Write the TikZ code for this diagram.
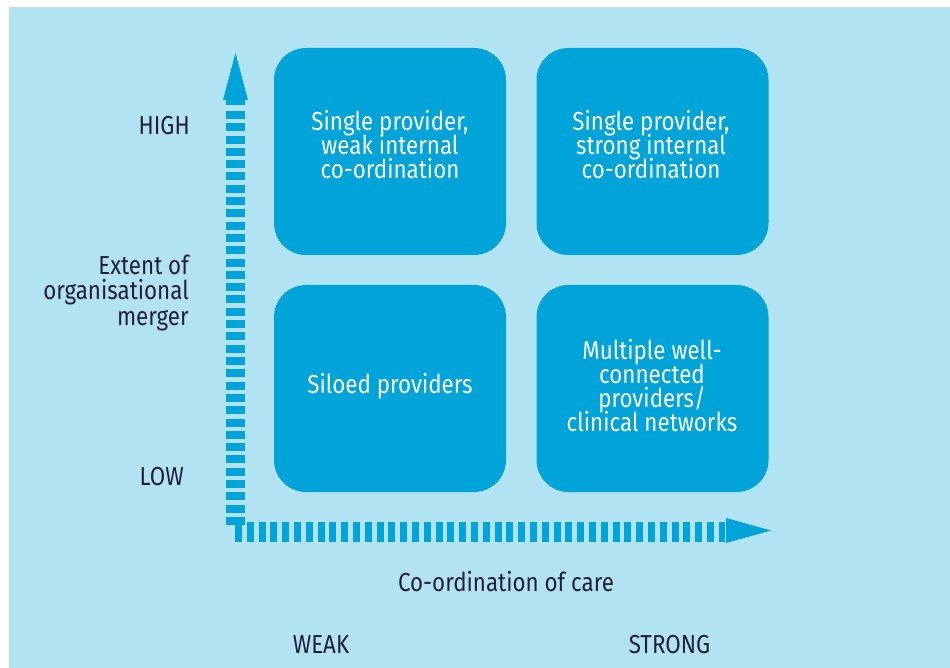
\documentclass[tikz,border=0pt]{standalone}
\usepackage{fontspec}
\setmainfont{Fira Sans}[FakeStretch=0.86]
\definecolor{bgblue}{HTML}{B2E3F3}
\definecolor{boxblue}{HTML}{00A4D8}
\definecolor{ink}{HTML}{221E3A}
\newcommand\mytightlines{\lineskiplimit=-30pt\relax\lineskip=0pt\relax}
\begin{document}
\begin{tikzpicture}[x=1pt,y=-1pt,
  quad/.style={fill=boxblue, rounded corners=32pt, minimum width=232pt, minimum height=207pt, inner sep=0pt},
  quadtext/.style={text=white, align=center, font=\fontsize{26}{24}\selectfont\mytightlines, inner sep=0pt},
  axlabel/.style={text=ink, font=\fontsize{26}{25.5}\selectfont\mytightlines, inner sep=0pt},
  axisbar/.style={draw=boxblue, line width=19pt},
]
\useasboundingbox (0,0) rectangle (950,668);
\fill[white] (0,0) rectangle (950,668);
\fill[bgblue] (9,7) rectangle (950,668);

% quadrants
\node[quad] (b1) at (390,151.5) {};
\node[quad] (b2) at (652.5,151.5) {};
\node[quad] (b3) at (390,388.5) {};
\node[quad] (b4) at (652.5,388.5) {};
\node[quadtext] (t1) at (390,145) {Single provider,\\weak internal\\co-ordination};
\node[quadtext] (t2) at (651,145) {Single provider,\\strong internal\\co-ordination};
\node[quadtext] (t3) at (390,386) {Siloed providers};
\node[quadtext] (t4) at (652,386) {Multiple well-\\connected\\providers/\\clinical networks};

% vertical axis
\fill[boxblue] (223,100) -- (235.5,53) -- (248,100) -- cycle;
\fill[boxblue] (226,99) rectangle (245,105);
\draw[axisbar, dash pattern=on 8pt off 4.3pt] (235.5,111) -- (235.5,526);
% horizontal axis
\draw[draw=boxblue, line width=20pt, dash pattern=on 7pt off 4.8pt] (235,531.7) -- (725,531.7);
\fill[boxblue] (726,518) -- (771,530.5) -- (726,543) -- cycle;

% labels
\node[axlabel, anchor=base east] (high) at (190,135) {HIGH};
\node[axlabel, anchor=base east] (low) at (184,485) {LOW};
\node[axlabel, align=right, anchor=east] (extent) at (189,293) {Extent of\\organisational\\merger};
\node[axlabel] (coord) at (506,582) {Co-ordination of care};
\node[axlabel, anchor=base] (weak) at (321,653) {WEAK};
\node[axlabel, anchor=base] (strong) at (669.5,653) {STRONG};
\end{tikzpicture}
\end{document}
